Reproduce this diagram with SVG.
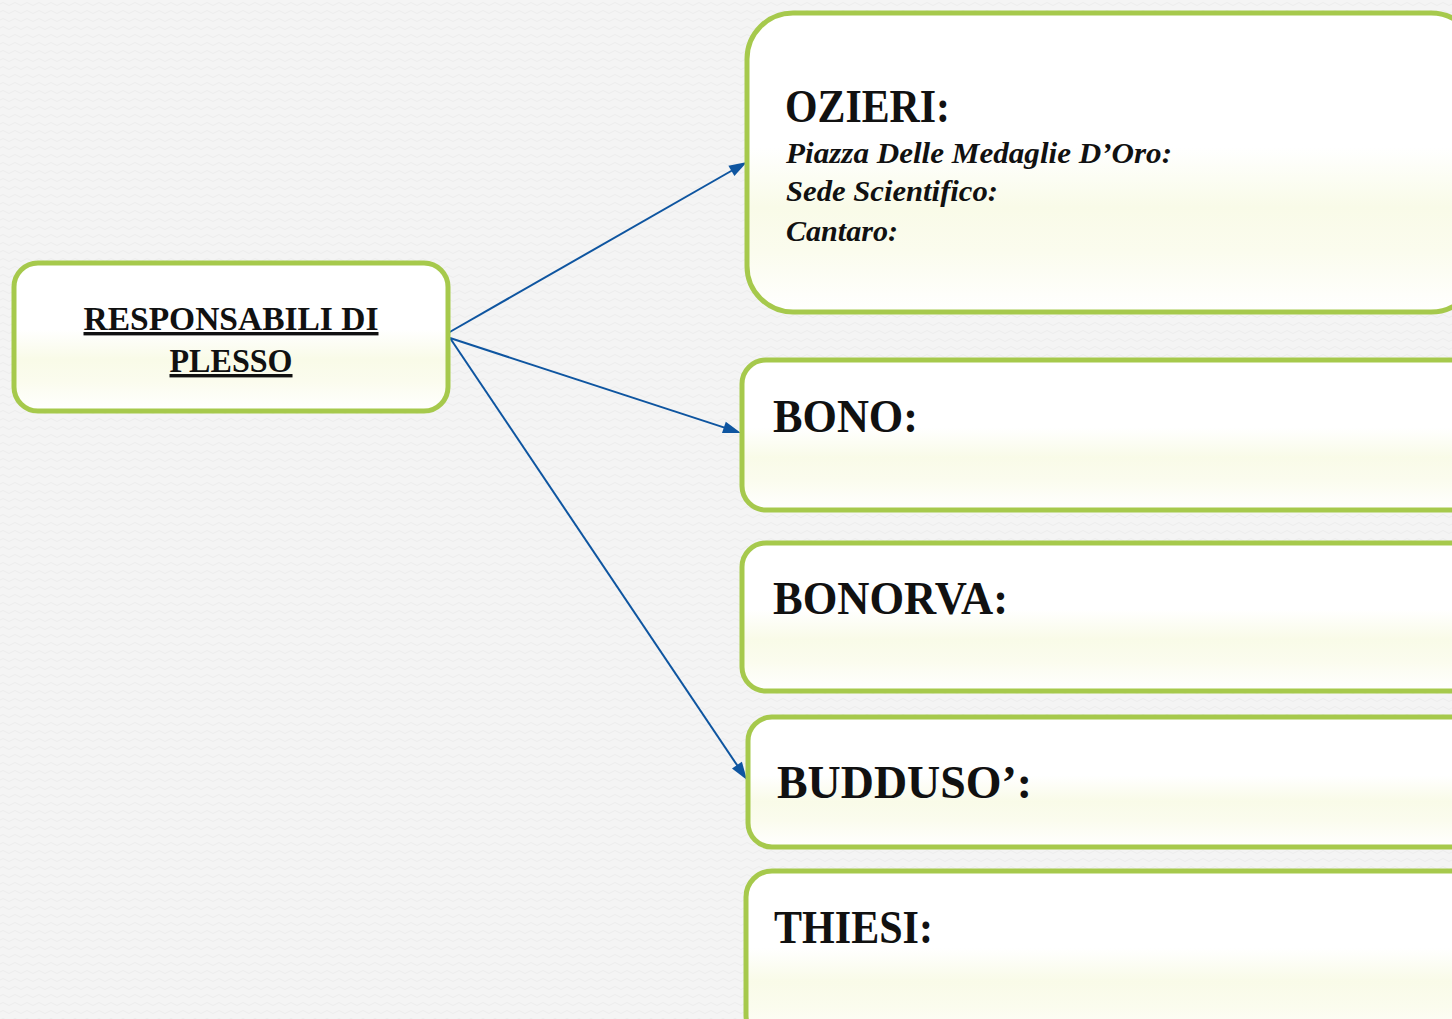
<svg xmlns="http://www.w3.org/2000/svg" width="1452" height="1019" viewBox="0 0 1452 1019">
<defs>
<pattern id="wave" width="12" height="8" patternUnits="userSpaceOnUse">
<rect width="12" height="8" fill="#f4f4f4"/>
<path d="M0 4 Q3 1 6 4 T12 4" fill="none" stroke="#ececec" stroke-width="1"/>
</pattern>
<linearGradient id="fillg" x1="0" y1="0" x2="0" y2="1">
<stop offset="0" stop-color="#ffffff"/>
<stop offset="0.45" stop-color="#ffffff"/>
<stop offset="0.65" stop-color="#f9fbe8"/>
<stop offset="0.8" stop-color="#fbfcee"/>
<stop offset="1" stop-color="#ffffff"/>
</linearGradient>
<style>
.box{fill:url(#fillg);stroke:#a6c94c;stroke-width:5}
.t{font-family:"Liberation Serif","Times New Roman",serif;fill:#111}
.big{font-size:46px;font-weight:bold}
.it{font-size:30px;font-style:italic;font-weight:bold}
.main{font-size:34px;font-weight:bold;text-decoration:underline}
.conn{stroke:#0e55a0;stroke-width:2;fill:none}
.head{fill:#0e55a0}
</style>
</defs>
<rect width="1452" height="1019" fill="url(#wave)"/>

<g id="connectors">
<line class="conn" x1="448" y1="333" x2="732" y2="170.5"/>
<polygon class="head" points="747,162 734.4,176.1 728.4,165.7"/>
<line class="conn" x1="450" y1="338" x2="724.5" y2="427.6"/>
<polygon class="head" points="741,433 722.0,433.1 725.8,421.7"/>
<line class="conn" x1="450" y1="338" x2="737.5" y2="765.8"/>
<polygon class="head" points="747,780 732.0,768.4 741.9,761.7"/>
</g>

<g id="node-responsabili">
<rect class="box" x="14" y="263" width="434" height="148" rx="24"/>
<text class="t main" x="231" y="330" text-anchor="middle" textLength="295" lengthAdjust="spacingAndGlyphs">RESPONSABILI DI</text>
<text class="t main" x="231" y="372" text-anchor="middle" textLength="123" lengthAdjust="spacingAndGlyphs">PLESSO</text>
</g>

<g id="node-ozieri">
<rect class="box" x="747" y="13" width="730" height="299" rx="46"/>
<text class="t big" x="785" y="122" textLength="165" lengthAdjust="spacingAndGlyphs">OZIERI:</text>
<text class="t it" x="786" y="163" textLength="386" lengthAdjust="spacingAndGlyphs">Piazza Delle Medaglie D’Oro:</text>
<text class="t it" x="786" y="201" textLength="212" lengthAdjust="spacingAndGlyphs">Sede Scientifico:</text>
<text class="t it" x="786" y="241" textLength="112" lengthAdjust="spacingAndGlyphs">Cantaro:</text>
</g>

<g id="node-bono">
<rect class="box" x="742" y="360" width="735" height="150" rx="24"/>
<text class="t big" x="773" y="432" textLength="145" lengthAdjust="spacingAndGlyphs">BONO:</text>
</g>

<g id="node-bonorva">
<rect class="box" x="742" y="543" width="735" height="148" rx="24"/>
<text class="t big" x="773" y="614" textLength="235" lengthAdjust="spacingAndGlyphs">BONORVA:</text>
</g>

<g id="node-budduso">
<rect class="box" x="748" y="717" width="729" height="130" rx="24"/>
<text class="t big" x="777" y="798" textLength="255" lengthAdjust="spacingAndGlyphs">BUDDUSO’:</text>
</g>

<g id="node-thiesi">
<rect class="box" x="746" y="871" width="731" height="170" rx="26"/>
<text class="t big" x="774" y="943" textLength="159" lengthAdjust="spacingAndGlyphs">THIESI:</text>
</g>
</svg>
